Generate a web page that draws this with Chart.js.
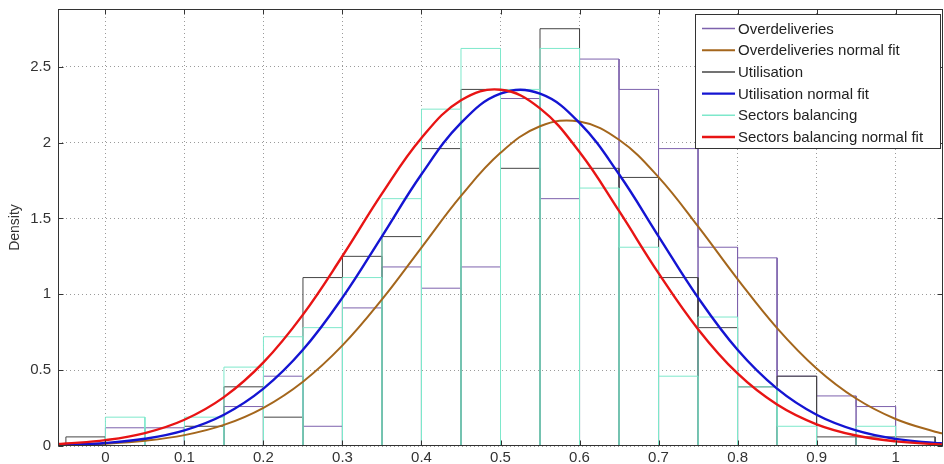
<!DOCTYPE html>
<html>
<head>
<meta charset="utf-8">
<script src="https://cdn.jsdelivr.net/npm/chart.js@4/dist/chart.umd.min.js"></script>
<style>
  html, body { margin: 0; padding: 0; background: #fff; }
  #wrap { width: 944px; height: 464px; position: relative; }
</style>
</head>
<body>
<div id="wrap"><canvas id="histChart"></canvas></div>
<script>
// histogram bins (edges) and densities per bin
const binEdges = [-0.05, 0, 0.05, 0.1, 0.15, 0.2, 0.25, 0.3, 0.35, 0.4, 0.45, 0.5,
                  0.55, 0.6, 0.65, 0.7, 0.75, 0.8, 0.85, 0.9, 0.95, 1.0, 1.05];
const overdeliveries = [0, 0.12, 0.12, 0, 0.26, 0.46, 0.13, 0.91, 1.18, 1.04, 1.18,
                        2.29, 1.63, 2.55, 2.35, 1.96, 1.31, 1.24, 0.46, 0.33, 0.26, 0];
const utilisation = [0.06, 0, 0, 0.13, 0.39, 0.19, 1.11, 1.25, 1.38, 1.96, 2.35,
                     1.83, 2.75, 1.83, 1.77, 1.11, 0.78, 0.39, 0.46, 0.06, 0.06, 0.06];
const sectorsBalancing = [0, 0.19, 0, 0.19, 0.52, 0.72, 0.78, 1.11, 1.63, 2.22, 2.62,
                          2.35, 2.62, 1.70, 1.31, 0.46, 0.85, 0.39, 0.13, 0, 0.13, 0];

// normal fit curves, read at these x positions
const fitX = [-0.06, -0.05, 0, 0.05, 0.1, 0.15, 0.2, 0.25, 0.3, 0.35, 0.4, 0.45, 0.5,
              0.55, 0.6, 0.65, 0.7, 0.75, 0.8, 0.85, 0.9, 0.95, 1.0, 1.05, 1.06];
const overFit = [0.0053, 0.0063, 0.0152, 0.0343, 0.0716, 0.139, 0.252, 0.424, 0.663, 0.966,
                 1.308, 1.648, 1.932, 2.107, 2.138, 2.018, 1.772, 1.447, 1.100, 0.777,
                 0.511, 0.313, 0.178, 0.094, 0.082];
const utilFit = [0.0063, 0.0077, 0.0199, 0.0474, 0.103, 0.206, 0.378, 0.634, 0.978, 1.382,
                 1.791, 2.129, 2.322, 2.322, 2.129, 1.791, 1.382, 0.978, 0.634, 0.378,
                 0.206, 0.103, 0.047, 0.0199, 0.0166];
const sectFit = [0.0134, 0.0161, 0.0387, 0.0852, 0.173, 0.322, 0.551, 0.866, 1.252, 1.663,
                 2.030, 2.278, 2.348, 2.225, 1.937, 1.549, 1.139, 0.770, 0.478, 0.273,
                 0.143, 0.069, 0.0305, 0.0124, 0.0103];

const xTicks = [0, 0.1, 0.2, 0.3, 0.4, 0.5, 0.6, 0.7, 0.8, 0.9, 1];
const yTicks = [0, 0.5, 1, 1.5, 2, 2.5];

const FONT = '"Liberation Sans", Arial, Helvetica, sans-serif';

// rectangle outline for every bin, as a polyline
function outline(heights) {
    const pts = [];
    heights.forEach((h, i) => {
        const a = binEdges[i], b = binEdges[i + 1];
        pts.push({x: a, y: 0}, {x: a, y: h}, {x: b, y: h}, {x: b, y: 0});
    });
    return pts;
}

function curve(values) {
    return fitX.map((x, i) => ({x: x, y: values[i]}));
}

function histSet(label, heights, color, order) {
    return {
        label: label, data: outline(heights), borderColor: color, borderWidth: 1,
        pointRadius: 0, tension: 0, fill: false, order: order
    };
}

function fitSet(label, values, color, width, order) {
    return {
        label: label, data: curve(values), borderColor: color, borderWidth: width,
        pointRadius: 0, tension: 0.4, fill: false, order: order
    };
}

// box around the plot with inward ticks, like the original figure
const framePlugin = {
    id: 'frame',
    afterDatasetsDraw(chart) {
        const {ctx, chartArea: a, scales} = chart;
        ctx.save();
        ctx.strokeStyle = '#333';
        ctx.lineWidth = 1;
        ctx.setLineDash([]);
        const L = Math.round(a.left) + 0.5, R = Math.round(a.right) - 0.5;
        const T = Math.round(a.top) + 0.5, B = Math.round(a.bottom) - 0.5;
        ctx.strokeRect(L, T, R - L, B - T);
        ctx.beginPath();
        xTicks.forEach(v => {
            const px = Math.round(scales.x.getPixelForValue(v)) + 0.5;
            ctx.moveTo(px, B); ctx.lineTo(px, B - 5);
            ctx.moveTo(px, T); ctx.lineTo(px, T + 5);
        });
        yTicks.forEach(v => {
            const py = Math.round(scales.y.getPixelForValue(v)) + 0.5;
            ctx.moveTo(L, py); ctx.lineTo(L + 5, py);
            ctx.moveTo(R, py); ctx.lineTo(R - 5, py);
        });
        ctx.stroke();
        ctx.restore();
    }
};

// legend box in the upper right corner
const legendPlugin = {
    id: 'boxLegend',
    afterDraw(chart) {
        const {ctx} = chart;
        const x0 = 695.5, y0 = 14.5, w = 245, h = 134;
        ctx.save();
        ctx.fillStyle = '#fff';
        ctx.fillRect(x0, y0, w, h);
        ctx.strokeStyle = '#333';
        ctx.lineWidth = 1;
        ctx.strokeRect(x0, y0, w, h);
        ctx.font = '15px ' + FONT;
        ctx.textBaseline = 'middle';
        ctx.textAlign = 'left';
        chart.data.datasets.forEach((ds, i) => {
            const y = 28.5 + i * 21.7;
            ctx.strokeStyle = ds.borderColor;
            ctx.lineWidth = Math.max(ds.borderWidth, 1.5);
            ctx.beginPath();
            ctx.moveTo(702, y); ctx.lineTo(735, y);
            ctx.stroke();
            ctx.fillStyle = '#222';
            ctx.fillText(ds.label, 738, y + 1);
        });
        ctx.restore();
    }
};

const fmt = v => String(+Number(v).toFixed(2));

new Chart(document.getElementById('histChart'), {
    type: 'line',
    data: {
        datasets: [
            histSet('Overdeliveries', overdeliveries, '#7d62ad', 5),
            fitSet('Overdeliveries normal fit', overFit, '#a4661c', 2, 2),
            histSet('Utilisation', utilisation, '#454545', 4),
            fitSet('Utilisation normal fit', utilFit, '#1414d2', 2.4, 1),
            histSet('Sectors balancing', sectorsBalancing, '#7ee8cb', 2),
            fitSet('Sectors balancing normal fit', sectFit, '#e81414', 2.4, 0)
        ]
    },
    options: {
        responsive: true,
        maintainAspectRatio: false,
        animation: false,
        layout: { padding: { top: 9, right: 1, left: 0, bottom: 0 } },
        plugins: {
            legend: { display: false },
            tooltip: { enabled: false }
        },
        scales: {
            x: {
                type: 'linear',
                min: -0.06,
                max: 1.06,
                afterFit: s => { s.height = 18; s.paddingLeft = 0; s.paddingRight = 0; },
                grid: { color: '#9a9a9a', lineWidth: 1, drawTicks: false },
                border: { display: false, dash: [1, 3] },
                ticks: {
                    stepSize: 0.1, includeBounds: false, padding: 3, maxRotation: 0,
                    color: '#333', font: { family: FONT, size: 15 }, callback: fmt
                }
            },
            y: {
                min: 0,
                max: 2.88,
                afterFit: s => { s.width = 58; s.paddingTop = 0; s.paddingBottom = 0; },
                grid: { color: '#9a9a9a', lineWidth: 1, drawTicks: false },
                border: { display: false, dash: [1, 3] },
                title: {
                    display: true, text: 'Density', color: '#333',
                    font: { family: FONT, size: 14 }, padding: { top: 7, bottom: 0 }
                },
                ticks: {
                    stepSize: 0.5, includeBounds: false, padding: 7,
                    color: '#333', font: { family: FONT, size: 15 }, callback: fmt
                }
            }
        }
    },
    plugins: [framePlugin, legendPlugin]
});
</script>
</body>
</html>
